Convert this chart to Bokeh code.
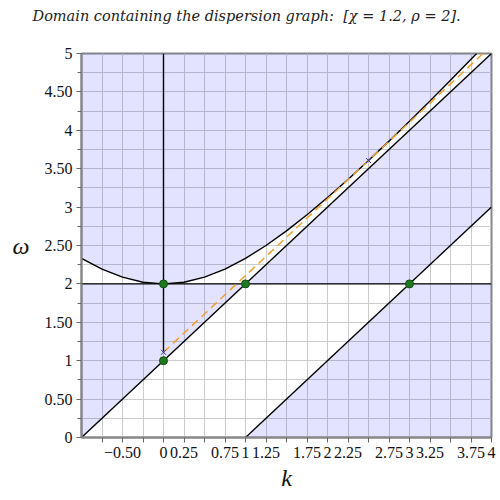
from bokeh.plotting import figure
from bokeh.models import Range1d, FixedTicker, Title
from bokeh.embed import file_html
from bokeh.resources import INLINE

# ---- data ----
chi = 1.2
rho = 2.0
title_text = "Domain containing the dispersion graph:\u00a0 [\u03c7 = 1.2, \u03c1 = 2]."
# dispersion curve omega(k)
curve_k = [-1.0, -0.75, -0.5, -0.25, 0.0, 0.25, 0.5, 0.75, 1.0, 1.25, 1.5, 1.75,
           2.0, 2.25, 2.5, 2.75, 3.0, 3.25, 3.5, 3.75, 3.819]
curve_w = [2.332, 2.193, 2.088, 2.022, 2.0, 2.022, 2.088, 2.193, 2.332, 2.5, 2.691, 2.9,
           3.124, 3.360, 3.606, 3.859, 4.118, 4.383, 4.652, 4.924, 5.0]
# light lines omega = k + 1 and omega = k - 1
upper_k = [-1.0, 4.0]
upper_w = [0.0, 5.0]
lower_k = [1.0, 4.0]
lower_w = [0.0, 3.0]
# horizontal omega = rho, vertical k = 0
horiz_k = [-1.0, 4.0]
horiz_w = [2.0, 2.0]
vert_k = [0.0, 0.0]
vert_w = [1.11, 5.0]
# tangent (group velocity) line
tan_k = [0.0, 3.896]
tan_w = [1.11, 5.0]
# special points
dot_k = [0.0, 0.0, 1.0, 3.0]
dot_w = [2.0, 1.0, 2.0, 2.0]
cross_k = [0.0, 2.5]
cross_w = [1.11, 3.606]

x_ticks = [-0.75, -0.5, -0.25, 0.0, 0.25, 0.5, 0.75, 1.0, 1.25, 1.5, 1.75, 2.0,
           2.25, 2.5, 2.75, 3.0, 3.25, 3.5, 3.75, 4.0]
x_labels = ["", "\u22120.50", "", "0", "0.25", "", "0.75", "1", "1.25", "", "1.75", "2",
            "2.25", "", "2.75", "3", "3.25", "", "3.75", "4"]
y_ticks = [0.0, 0.5, 1.0, 1.5, 2.0, 2.5, 3.0, 3.5, 4.0, 4.5, 5.0]
y_labels = ["0", "0.50", "1", "1.50", "2", "2.50", "3", "3.50", "4", "4.50", "5"]
y_minor = [0.25, 0.75, 1.25, 1.75, 2.25, 2.75, 3.25, 3.75, 4.25, 4.75]
grid_x = [-0.75 + 0.25 * i for i in range(20)]
grid_y = [0.25 * i for i in range(21)]

x0, x1 = -1.0, 4.0
y0, y1 = 0.0, 5.0

p = figure(frame_width=410, frame_height=384, output_backend="svg", toolbar_location=None,
           x_range=Range1d(x0, x1), y_range=Range1d(y0, y1),
           min_border_left=81, min_border_right=9, min_border_top=53, min_border_bottom=63,
           title=title_text)

p.title.align = "left"
p.title.offset = -49
p.title.vertical_align = "top"
p.title.text_font = "DejaVu Serif"
p.title.text_font_style = "italic"
p.title.text_font_size = "14.5px"
p.title.text_color = "#222222"
p.title.standoff = 10

# empty spacer title between the frame and the real title
spacer = Title(text=" ", text_font_size="19px", standoff=0)
p.add_layout(spacer, "above")

p.outline_line_color = "#888888"
p.outline_line_width = 2

# grid
p.xgrid.ticker = FixedTicker(ticks=grid_x)
p.ygrid.ticker = FixedTicker(ticks=grid_y)
for g in (p.xgrid, p.ygrid):
    g.grid_line_color = "#cccccc"
    g.grid_line_width = 1
    g.grid_line_alpha = 1.0

# axes
p.xaxis.ticker = FixedTicker(ticks=x_ticks)
p.xaxis.major_label_overrides = {t: l for t, l in zip(x_ticks, x_labels)}
p.yaxis.ticker = FixedTicker(ticks=y_ticks, minor_ticks=y_minor)
p.yaxis.major_label_overrides = {t: l for t, l in zip(y_ticks, y_labels)}
for ax in (p.xaxis, p.yaxis):
    ax.axis_line_color = "#888888"
    ax.axis_line_width = 2
    ax.major_tick_line_color = "#666666"
    ax.minor_tick_line_color = "#666666"
    ax.major_tick_out = 5
    ax.major_tick_in = 0
    ax.minor_tick_out = 4
    ax.minor_tick_in = 0
    ax.major_label_text_font = "Liberation Serif"
    ax.major_label_text_font_size = "16px"
    ax.major_label_text_color = "#111111"
    ax.major_label_standoff = 4
    ax.axis_label_text_font = "Liberation Serif"
    ax.axis_label_text_font_style = "italic"
    ax.axis_label_text_font_size = "24px"
    ax.axis_label_text_color = "#111111"
p.xaxis.axis_label = "k"
p.xaxis.axis_label_standoff = 4
p.yaxis.axis_label = "\u03c9"
p.yaxis.axis_label_orientation = "horizontal"
p.yaxis.axis_label_standoff = 12
p.xaxis.minor_tick_line_color = None

# shaded regions built from the curves
shade = "#0000ff"
shade_alpha = 0.11
# above the dispersion curve
ax_k = list(curve_k) + [x0]
ax_w = list(curve_w) + [y1]
# between omega=k+1 and omega=rho on the left
b_k = [upper_k[0], (horiz_w[0] - 1.0), x0]
b_w = [upper_w[0], horiz_w[0], horiz_w[0]]
# between the two light lines above omega=rho
c_k = [horiz_w[0] - 1.0, horiz_w[0] + 1.0, x1, x1]
c_w = [horiz_w[0], horiz_w[0], lower_w[1], upper_w[1]]
# below omega=k-1 and below omega=rho
d_k = [lower_k[0], x1, x1, horiz_w[0] + 1.0]
d_w = [y0, y0, horiz_w[0], horiz_w[0]]
p.patches([ax_k, b_k, c_k, d_k], [ax_w, b_w, c_w, d_w],
          fill_color=shade, fill_alpha=shade_alpha, line_color=None)

# lines
p.line(horiz_k, horiz_w, line_color="black", line_width=1.4)
p.line(vert_k, vert_w, line_color="black", line_width=1.4)
p.line(upper_k, upper_w, line_color="black", line_width=1.4)
p.line(lower_k, lower_w, line_color="black", line_width=1.4)
p.line(curve_k, curve_w, line_color="black", line_width=1.4)
p.line(tan_k, tan_w, line_color="#f0a030", line_width=1.5, line_dash="8 5")

p.scatter(dot_k, dot_w, size=8, marker="circle", fill_color="#1f7a1f", line_color="#0f4f0f")
p.scatter(cross_k, cross_w, size=7, marker="x", line_color="#3030b0", line_width=1)

open("out.html", "w").write(file_html(p, INLINE))
